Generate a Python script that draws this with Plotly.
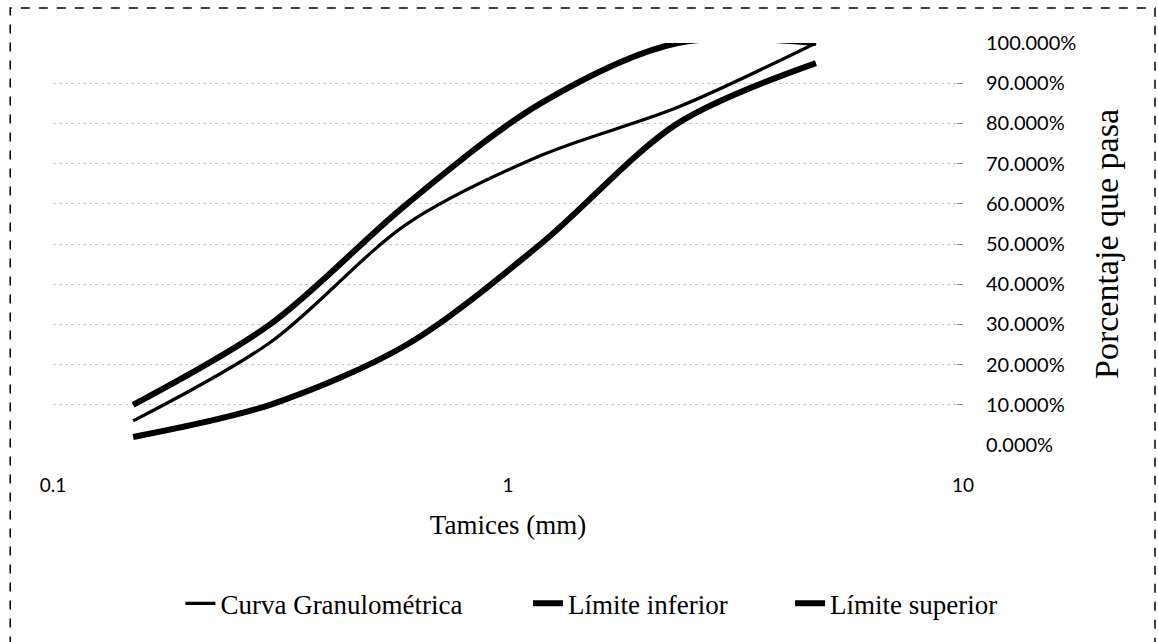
import plotly.graph_objects as go

# Data
sieves_mm = [0.15, 0.3, 0.6, 1.18, 2.36, 4.75]
curva_granulometrica = [0.06, 0.255, 0.55, 0.72, 0.84, 1.00]
limite_inferior = [0.02, 0.10, 0.25, 0.50, 0.80, 0.95]
limite_superior = [0.10, 0.30, 0.60, 0.85, 1.00, 1.00]
series_names = ["Curva Granulométrica", "Límite inferior", "Límite superior"]
y_ticks = [0, 0.1, 0.2, 0.3, 0.4, 0.5, 0.6, 0.7, 0.8, 0.9, 1.0]
x_ticks = [0.1, 1, 10]

serif = "Liberation Serif, Times New Roman, serif"
sans = "Lato, Carlito, Calibri, sans-serif"

legend_ids = ["legend", "legend2", "legend3"]
legend_x = [0.14, 0.522, 0.81]
widths = [3.2, 6, 6]
series = [curva_granulometrica, limite_inferior, limite_superior]

fig = go.Figure()
for name, ys, w, lg in zip(series_names, series, widths, legend_ids):
    fig.add_trace(go.Scatter(
        x=sieves_mm, y=ys, name=name, mode="lines", legend=lg,
        line=dict(color="black", width=w, shape="spline", smoothing=0.9),
    ))

legend_common = dict(
    orientation="h", y=-0.395, yanchor="middle", xanchor="left",
    font=dict(family=serif, size=27, color="black"),
    bgcolor="rgba(0,0,0,0)", borderwidth=0,
)

fig.update_layout(
    width=1158, height=642,
    paper_bgcolor="white", plot_bgcolor="white",
    margin=dict(l=53, r=195, t=43, b=197, autoexpand=False),
    showlegend=True,
    legend=dict(x=legend_x[0], **legend_common),
    legend2=dict(x=legend_x[1], **legend_common),
    legend3=dict(x=legend_x[2], **legend_common),
    xaxis=dict(
        type="log", range=[-1, 1], automargin=False,
        tickvals=x_ticks, ticktext=["0.1", "1", "10"],
        tickfont=dict(family=sans, size=19, color="black"),
        showgrid=False, zeroline=False, showline=False, ticks="",
        ticklabelstandoff=27,
        title=dict(text="Tamices (mm)", font=dict(family=serif, size=27, color="black"),
                   standoff=20),
    ),
    yaxis=dict(
        side="right", range=[0, 1.0], automargin=False,
        tickvals=y_ticks, tickformat=".3%",
        tickfont=dict(family=sans, size=20, color="black"),
        showgrid=True, gridcolor="#cccccc", griddash="dot", gridwidth=1,
        zeroline=False, showline=False,
        ticks="inside", ticklen=6, tickcolor="#888888",
        ticklabelstandoff=22,
        title=dict(text="Porcentaje que pasa", font=dict(family=serif, size=34, color="black"),
                   standoff=18),
    ),
)

# Dashed border around the chart area (as in the scanned image)
fig.add_shape(type="rect", xref="paper", yref="paper",
              x0=-0.047, x1=1.211, y0=-0.52, y1=1.087,
              line=dict(color="black", width=1.5, dash="dash"))

fig.write_html("out.html", config={"displayModeBar": False},
               post_script="document.body.style.margin='0';")
